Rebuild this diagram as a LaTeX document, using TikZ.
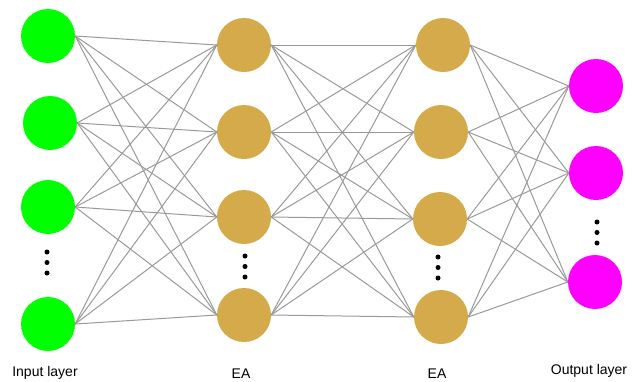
\documentclass[tikz,border=0pt]{standalone}
\usepackage{fontspec}
\setmainfont{Liberation Sans}
\usetikzlibrary{positioning}
\definecolor{eagold}{HTML}{D4AA4A}
\definecolor{linkgray}{HTML}{999999}
\definecolor{inpgreen}{HTML}{00FF00}
\definecolor{outpink}{HTML}{FF00FF}

\begin{document}
\begin{tikzpicture}
  [x=1pt, y=-1pt,
   neuron/.style={circle, minimum size=54pt, inner sep=0pt},
   inp/.style={neuron, fill=inpgreen},
   ea/.style={neuron, fill=eagold},
   outp/.style={neuron, fill=outpink},
   link/.style={draw=linkgray, line width=1pt},
   vdot/.style={circle, fill=black, inner sep=0pt, minimum size=5pt},
   lbl/.style={font=\fontsize{14}{16}\selectfont}]
  \useasboundingbox (0,0) rectangle (639,381);

  % nodes %
  \node[inp] (i1) at (48,36) {};
  \node[inp] (i2) at (50,123) {};
  \node[inp] (i3) at (48,207) {};
  \node[inp] (i4) at (48,324) {};

  \node[ea] (a1) at (244,45) {};
  \node[ea] (a2) at (244,132) {};
  \node[ea] (a3) at (244,217) {};
  \node[ea] (a4) at (244,315) {};

  \node[ea] (b1) at (443,45) {};
  \node[ea] (b2) at (441,132) {};
  \node[ea] (b3) at (440,219) {};
  \node[ea] (b4) at (441,317) {};

  \node[outp] (o1) at (596,86) {};
  \node[outp] (o2) at (596,173) {};
  \node[outp] (o3) at (595,282) {};

  % dots %
  \foreach \n/\x/\y in {p/47/252, q/245/256, r/438/257, s/597/222} {
    \node[vdot] (\n1) at (\x,\y) {};
    \node[vdot] (\n2) at (\x,\y+10.5) {};
    \node[vdot] (\n3) at (\x,\y+21) {};
  }

  % edges %
  \foreach \s in {1,...,4}
    \foreach \t in {1,...,4} {
      \draw[link] (i\s.east) -- (a\t.west);
      \draw[link] (a\s.east) -- (b\t.west);
    }
  \foreach \s in {1,...,4}
    \foreach \t in {1,...,3}
      \draw[link] (b\s.east) -- (o\t.west);

  % labels %
  \node[lbl] (li) at (45,373) {Input layer};
  \node[lbl] (la) at (241,374) {EA};
  \node[lbl] (lb) at (437,374) {EA};
  \node[lbl] (lo) at (589,371) {Output layer};
\end{tikzpicture}
\end{document}
